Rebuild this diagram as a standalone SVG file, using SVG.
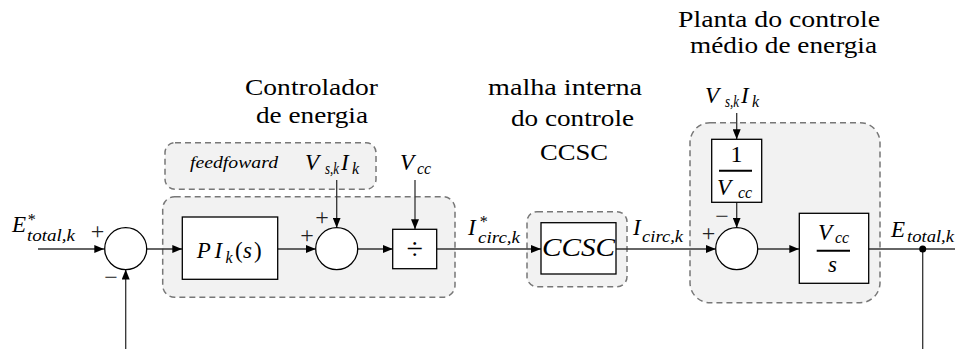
<svg xmlns="http://www.w3.org/2000/svg" width="955" height="349" viewBox="0 0 955 349">
<style>
.grp{fill:#f2f2f2;stroke:#777;stroke-width:1.5;stroke-dasharray:6 4}
.blk{fill:#fff;stroke:#000;stroke-width:1.3}
.ln{fill:none;stroke:#333;stroke-width:1.3}
text{font-family:'Liberation Serif','DejaVu Serif',serif;fill:#000}
.t{font-size:24px}
.m{font-style:italic;font-size:23px}
.s{font-style:italic;font-size:16px}
.r{font-size:23px}
.pm{font-size:24px;fill:#222;text-anchor:middle}
.c{text-anchor:middle}
</style>
<defs>
<marker id="ah" viewBox="0 0 10 8" refX="10" refY="4" markerWidth="10" markerHeight="8" markerUnits="userSpaceOnUse" orient="auto">
<path d="M0,0 L10,4 L0,8 z" fill="#000"/>
</marker>
</defs>

<g id="groups">
<rect id="grp-feedforward" class="grp" x="165" y="142.7" width="211" height="46.6" rx="10"/>
<rect id="grp-controlador" class="grp" x="162.7" y="196.7" width="292.3" height="100.6" rx="12"/>
<rect id="grp-ccsc" class="grp" x="527" y="211.7" width="100" height="75" rx="10"/>
<rect id="grp-planta" class="grp" x="690" y="122.7" width="190" height="180" rx="20"/>
</g>

<g id="titles">
<text class="t c" x="311.5" y="95" textLength="133" lengthAdjust="spacingAndGlyphs">Controlador</text>
<text class="t c" x="312" y="123" textLength="112" lengthAdjust="spacingAndGlyphs">de energia</text>
<text class="t c" x="565" y="95" textLength="154" lengthAdjust="spacingAndGlyphs">malha interna</text>
<text class="t c" x="572.5" y="126" textLength="123" lengthAdjust="spacingAndGlyphs">do controle</text>
<text class="t c" x="574" y="160" textLength="68" lengthAdjust="spacingAndGlyphs">CCSC</text>
<text class="t c" x="779" y="27" textLength="202" lengthAdjust="spacingAndGlyphs">Planta do controle</text>
<text class="t c" x="783.5" y="53" textLength="187" lengthAdjust="spacingAndGlyphs">médio de energia</text>
</g>

<g id="connectors">
<line class="ln" x1="38" y1="249" x2="104.3" y2="249" marker-end="url(#ah)"/>
<line class="ln" x1="146.7" y1="249" x2="182.3" y2="249" marker-end="url(#ah)"/>
<line class="ln" x1="277.7" y1="249" x2="315.7" y2="249" marker-end="url(#ah)"/>
<line class="ln" x1="336.7" y1="180" x2="336.7" y2="227.7" marker-end="url(#ah)"/>
<line class="ln" x1="357.7" y1="249" x2="392.7" y2="249" marker-end="url(#ah)"/>
<line class="ln" x1="415" y1="180" x2="415" y2="229.3" marker-end="url(#ah)"/>
<line class="ln" x1="436.7" y1="249" x2="541" y2="249" marker-end="url(#ah)"/>
<line class="ln" x1="616" y1="249" x2="715.7" y2="249" marker-end="url(#ah)"/>
<line class="ln" x1="736.7" y1="113" x2="736.7" y2="139.3" marker-end="url(#ah)"/>
<line class="ln" x1="736.7" y1="202.3" x2="736.7" y2="227.7" marker-end="url(#ah)"/>
<line class="ln" x1="757.7" y1="249" x2="799.3" y2="249" marker-end="url(#ah)"/>
<line class="ln" x1="868.7" y1="249" x2="955" y2="249"/>
<line class="ln" x1="922.7" y1="249" x2="922.7" y2="349"/>
<circle cx="922.7" cy="249" r="3.5" fill="#000"/>
<line class="ln" x1="125.7" y1="349" x2="125.7" y2="269.5" marker-end="url(#ah)"/>
</g>

<g id="sum1">
<circle class="blk" cx="125.7" cy="248.7" r="21"/>
<text class="pm" x="97.5" y="238.5">+</text>
<text class="pm" x="111" y="285">−</text>
</g>

<g id="pi">
<rect class="blk" x="182.3" y="217" width="95.4" height="62.3"/>
<text class="m" x="196.7" y="258">P</text>
<text class="m" x="214.5" y="258">I</text>
<text class="s" x="225.5" y="263">k</text>
<text class="r" x="235" y="258">(</text>
<text class="m" x="243" y="258">s</text>
<text class="r" x="254" y="258">)</text>
</g>

<g id="feedforward">
<text class="s" x="190" y="168" style="font-size:17px" textLength="88" lengthAdjust="spacingAndGlyphs">feedfoward</text>
<text class="m" x="305" y="170">V</text>
<text class="s" x="325" y="174" textLength="14" lengthAdjust="spacingAndGlyphs">s,k</text>
<text class="m" x="341" y="170">I</text>
<text class="s" x="352" y="174">k</text>
</g>

<g id="vcc-in">
<text class="m" x="400" y="170">V</text>
<text class="s" x="417" y="174">cc</text>
</g>

<g id="sum2">
<circle class="blk" cx="336.7" cy="248.7" r="21"/>
<text class="pm" x="322" y="225">+</text>
<text class="pm" x="307" y="242.5">+</text>
</g>

<g id="div">
<rect class="blk" x="392.7" y="229.3" width="44" height="39.4"/>
<text class="r c" x="414.7" y="259" style="font-size:30px">÷</text>
</g>

<g id="lbl-iref">
<text class="m" x="468" y="235">I</text>
<text class="s" x="479" y="227">*</text>
<text class="s" x="478" y="243" textLength="42" lengthAdjust="spacingAndGlyphs">circ,k</text>
</g>

<g id="ccsc">
<rect class="blk" x="541" y="222.7" width="75" height="51.3"/>
<text class="m" x="542" y="256" style="font-size:25px" textLength="73" lengthAdjust="spacingAndGlyphs">CCSC</text>
</g>

<g id="lbl-icirc">
<text class="m" x="633" y="235">I</text>
<text class="s" x="642" y="242" textLength="41" lengthAdjust="spacingAndGlyphs">circ,k</text>
</g>

<g id="lbl-eref">
<text class="m" x="12" y="232">E</text>
<text class="s" x="27" y="225">*</text>
<text class="s" x="27" y="241" textLength="48" lengthAdjust="spacingAndGlyphs">total,k</text>
</g>

<g id="plant-in">
<text class="m" x="705" y="103">V</text>
<text class="s" x="725" y="107" textLength="14" lengthAdjust="spacingAndGlyphs">s,k</text>
<text class="m" x="741" y="103">I</text>
<text class="s" x="752" y="107">k</text>
</g>

<g id="inv-vcc">
<rect class="blk" x="711.7" y="139.3" width="50" height="63"/>
<text class="r c" x="736.5" y="162" style="font-size:24px">1</text>
<line x1="719" y1="170.7" x2="752" y2="170.7" stroke="#000" stroke-width="2"/>
<text class="m" x="717" y="195">V</text>
<text class="s" x="738" y="198">cc</text>
</g>

<g id="sum3">
<circle class="blk" cx="736.7" cy="248.7" r="21"/>
<text class="pm" x="722" y="224">−</text>
<text class="pm" x="708.5" y="240.5">+</text>
</g>

<g id="integrator">
<rect class="blk" x="799.3" y="213.3" width="69.4" height="70"/>
<text class="m" x="818" y="240">V</text>
<text class="s" x="835" y="243">cc</text>
<line x1="816.7" y1="250.7" x2="850" y2="250.7" stroke="#000" stroke-width="2"/>
<text class="m" x="828" y="272">s</text>
</g>

<g id="lbl-eout">
<text class="m" x="891" y="236.7">E</text>
<text class="s" x="907" y="241.7" textLength="47" lengthAdjust="spacingAndGlyphs">total,k</text>
</g>
</svg>
